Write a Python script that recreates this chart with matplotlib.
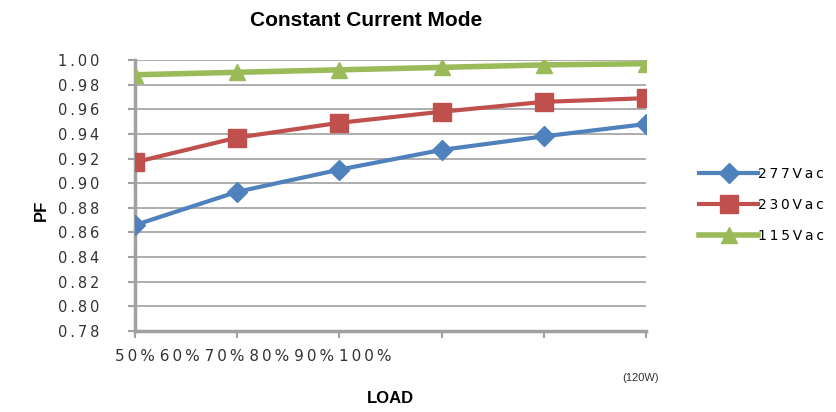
import matplotlib.pyplot as plt

# data
loads = ["50%", "60%", "70%", "80%", "90%", "100%"]
pf_277 = [0.866, 0.893, 0.911, 0.927, 0.938, 0.948]
pf_230 = [0.917, 0.937, 0.949, 0.958, 0.966, 0.969]
pf_115 = [0.988, 0.990, 0.992, 0.994, 0.996, 0.997]
yticks = [0.78, 0.80, 0.82, 0.84, 0.86, 0.88, 0.90, 0.92, 0.94, 0.96, 0.98, 1.00]

blue = '#4F81BD'
red = '#C0504D'
green = '#9BBB59'
grey = '#A0A0A0'


def spaced(s):
    return '\u2009'.join(s)


fig = plt.figure(figsize=(8.37, 4.12), dpi=100)
ax = fig.add_axes([0.1613, 0.1966, 0.6105, 0.6578])

x = list(range(len(loads)))
ax.plot(x, pf_277, color=blue, lw=3, marker='D', ms=10, label=spaced('277Vac'), zorder=4)
ax.plot(x, pf_230, color=red, lw=3, marker='s', ms=13, label=spaced('230Vac'), zorder=3)
ax.plot(x, pf_115, color=green, lw=4, marker='^', ms=11, label=spaced('115Vac'), zorder=3)

ax.set_xlim(0, len(loads) - 1)
ax.set_ylim(0.78, 1.00)
ax.set_yticks(yticks)
ax.set_yticklabels([spaced(f"{v:.2f}") for v in yticks], fontsize=10.5,
                   family='DejaVu Sans', color='#333333')
ax.set_xticks(x)
ax.set_xticklabels([])
ax.grid(axis='y', color=grey, lw=1.2)
ax.set_axisbelow(True)
ax.tick_params(axis='both', colors=grey, length=5, width=1.5, direction='out',
               labelcolor='#333333')
ax.tick_params(axis='y', pad=21)
for s in ['top', 'right']:
    ax.spines[s].set_visible(False)
for s in ['left', 'bottom']:
    ax.spines[s].set_color(grey)
    ax.spines[s].set_linewidth(2.5)

fig.text(0.137, 0.134, spaced(' '.join(loads)).replace('\u2009 \u2009', ' '),
         fontsize=11, color='#333333', ha='left', va='center')
fig.text(0.765, 0.082, "(120W)", fontsize=8, family='Liberation Sans',
         color='#333333', ha='center', va='center')
fig.text(0.466, 0.033, "LOAD", fontsize=12, fontweight='bold',
         family='Liberation Sans', ha='center', va='center')
fig.text(0.05, 0.49, "PF", fontsize=12, fontweight='bold', rotation=90,
         family='Liberation Sans', ha='center', va='center')
fig.text(0.438, 0.95, "Constant Current Mode", fontsize=15, fontweight='bold',
         family='Liberation Sans', ha='center', va='center')

leg = ax.legend(loc='center left', bbox_to_anchor=(1.08, 0.465), frameon=False,
                fontsize=10, handlelength=4.2, handletextpad=0.0,
                labelspacing=1.2)

fig.savefig('out.png', dpi=100)
